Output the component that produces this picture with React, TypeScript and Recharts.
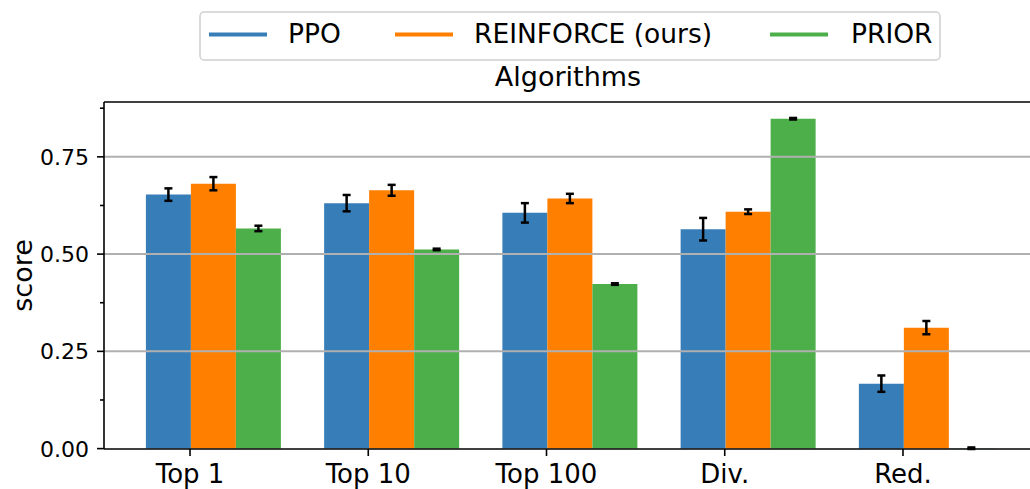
import React from "react";
import { Bar, BarChart, ErrorBar, ReferenceLine, XAxis, YAxis } from "recharts";

const categories = ["Top 1", "Top 10", "Top 100", "Div.", "Red."];
const ppo = [0.653, 0.631, 0.606, 0.564, 0.167];
const ppoErr = [0.016, 0.021, 0.025, 0.029, 0.021];
const reinforce = [0.681, 0.664, 0.643, 0.609, 0.311];
const reinforceErr = [0.017, 0.014, 0.012, 0.006, 0.017];
const prior = [0.566, 0.512, 0.423, 0.848, 0.001];
const priorErr = [0.007, 0.002, 0.002, 0.002, 0.002];

const seriesNames = ["PPO", "REINFORCE (ours)", "PRIOR"];
const seriesKeys = ["ppo", "reinforce", "prior"];
const colors = ["#377eb8", "#ff7f00", "#4daf4a"];
const yTicks = [0, 0.125, 0.25, 0.375, 0.5, 0.625, 0.75, 0.875];
const gridValues = [0.25, 0.5, 0.75];
const Y_MAX = 0.891;

const FONT = "'DejaVu Sans', sans-serif";
const AXIS_X = 104;

// legend item layout (line start, text start)
const legendLineX = [209, 395, 770];
const legendTextX = [288, 474, 851];

const data = categories.map((name, i) => ({
  name,
  pad: 0,
  ppo: ppo[i],
  ppoErr: ppoErr[i],
  reinforce: reinforce[i],
  reinforceErr: reinforceErr[i],
  prior: prior[i],
  priorErr: priorErr[i],
}));

function YTick(props: any) {
  const { y, payload } = props;
  const v = payload.value as number;
  const major = Math.abs(v / 0.25 - Math.round(v / 0.25)) < 1e-6;
  return (
    <g>
      <line
        x1={AXIS_X - (major ? 7 : 4)}
        x2={AXIS_X}
        y1={y}
        y2={y}
        stroke="#000"
        strokeWidth={1.6}
      />
      {major && (
        <text
          x={AXIS_X - 15}
          y={y}
          dy="0.36em"
          textAnchor="end"
          fontSize={22}
          fontFamily={FONT}
          fill="#000"
        >
          {v.toFixed(2)}
        </text>
      )}
    </g>
  );
}

export default function App() {
  return (
    <div
      style={{
        position: "absolute",
        left: 0,
        top: 0,
        width: 1030,
        height: 489,
        overflow: "hidden",
        background: "#fff",
        fontFamily: FONT,
      }}
    >
      <BarChart
        width={1040}
        height={489}
        data={data}
        margin={{ top: 102, right: 5.5, bottom: 0, left: 24 }}
        barCategoryGap={0}
        barGap={0}
      >
        <XAxis
          dataKey="name"
          height={40}
          padding={{ left: -3.1, right: 42.4 }}
          axisLine={{ stroke: "#000", strokeWidth: 1.6 }}
          tickLine={{ stroke: "#000", strokeWidth: 1.6 }}
          tickSize={7}
          tickMargin={9}
          tick={{ fontSize: 26, fill: "#000", fontFamily: FONT }}
        />
        <YAxis
          width={80}
          domain={[0, Y_MAX]}
          ticks={yTicks}
          interval={0}
          axisLine={{ stroke: "#000", strokeWidth: 1.6 }}
          tickLine={false}
          tick={<YTick />}
        />
        <Bar dataKey="pad" fill="transparent" isAnimationActive={false} />
        {seriesKeys.map((k, i) => (
          <Bar key={k} dataKey={k} fill={colors[i]} isAnimationActive={false}>
            <ErrorBar
              dataKey={k + "Err"}
              width={4}
              stroke="#000"
              strokeWidth={2.5}
              direction="y"
            />
          </Bar>
        ))}
        {gridValues.map((v) => (
          <ReferenceLine key={v} y={v} stroke="#b0b0b0" strokeWidth={2} />
        ))}
        <ReferenceLine y={Y_MAX} stroke="#000" strokeWidth={1.6} />

        <text
          x={22.5}
          y={275.5}
          transform="rotate(-90 22.5 275.5)"
          textAnchor="middle"
          dominantBaseline="central"
          fontSize={27}
          fontFamily={FONT}
          fill="#000"
        >
          score
        </text>
        <text
          x={568}
          y={86}
          textAnchor="middle"
          fontSize={27}
          fontFamily={FONT}
          fill="#000"
        >
          Algorithms
        </text>
        <rect
          x={200}
          y={12}
          width={740}
          height={48}
          rx={4}
          fill="#fff"
          fillOpacity={0.8}
          stroke="#d0d0d0"
          strokeWidth={1.5}
        />
        {seriesNames.map((n, i) => (
          <g key={n}>
            <line
              x1={legendLineX[i]}
              x2={legendLineX[i] + 58}
              y1={34.5}
              y2={34.5}
              stroke={colors[i]}
              strokeWidth={4}
            />
            <text
              x={legendTextX[i]}
              y={42.5}
              fontSize={26.5}
              fontFamily={FONT}
              fill="#000"
            >
              {n}
            </text>
          </g>
        ))}
      </BarChart>
    </div>
  );
}
